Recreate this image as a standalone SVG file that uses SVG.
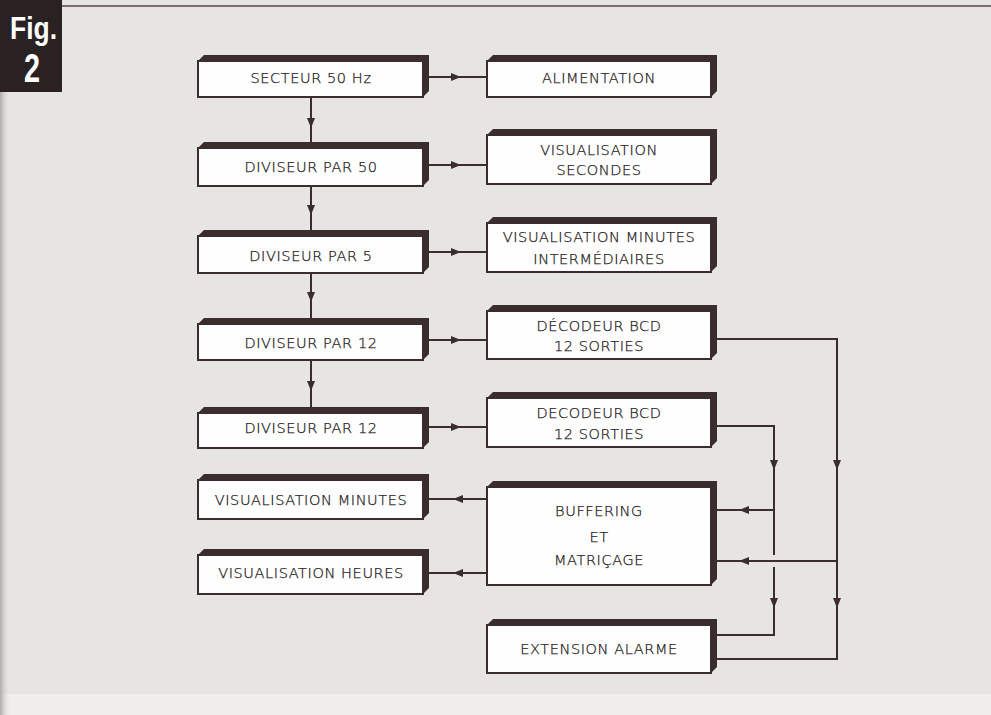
<svg xmlns="http://www.w3.org/2000/svg" xmlns:xlink="http://www.w3.org/1999/xlink" width="991" height="715" viewBox="0 0 991 715">
<style>
.sh{fill:#3b2d2d}
.bx{fill:#fefefe;stroke:#3b2d2d;stroke-width:2}
.t{font-family:"DejaVu Sans","Liberation Sans",sans-serif;font-size:14.5px;font-weight:200;letter-spacing:0.6px;fill:#1c1616;stroke:#1c1616;stroke-width:0.25;text-anchor:middle}
.ln{fill:none;stroke:#3b2d2d;stroke-width:2}
.ah{fill:#3b2d2d}
.fig{font-family:"Liberation Sans","Arial",sans-serif;font-weight:bold;fill:#ffffff}
</style>
<defs>
<linearGradient id="edge" x1="0" y1="0" x2="1" y2="0">
<stop offset="0" stop-color="#b0aaaa"/>
<stop offset="1" stop-color="#e7e5e3" stop-opacity="0"/>
</linearGradient>
<path id="ar" d="M0,0 L-10,-4 L-10,4 Z"/>
</defs>
<rect x="0" y="0" width="991" height="715" fill="#e7e5e3"/>
<rect x="0" y="694" width="991" height="21" fill="#efeeed"/>
<rect x="0" y="0" width="10" height="715" fill="url(#edge)"/>
<line x1="62" y1="6" x2="991" y2="6" stroke="#7d7070" stroke-width="2"/>
<g id="figlabel">
<rect x="0" y="0" width="62" height="92" fill="#2a2222"/>
<text class="fig" x="10" y="39" font-size="32" textLength="47" lengthAdjust="spacingAndGlyphs">Fig.</text>
<text class="fig" x="24" y="82" font-size="40" textLength="16" lengthAdjust="spacingAndGlyphs">2</text>
</g>
<g id="connectors">
<path class="ln" d="M429,77 H487 M429,165 H487 M429,252 H487 M429,340 H487 M429,427 H487"/>
<path class="ln" d="M311,97 V142 M311,186 V230 M311,273 V318 M311,360 V407"/>
<path class="ln" d="M487,499 H429 M487,573 H429"/>
<path class="ln" d="M717,339 H837 V659 H717 M837,561 H717"/>
<path class="ln" d="M717,426 H774 V555 M774,567 V635 H717 M774,510 H717"/>
<use xlink:href="#ar" class="ah" transform="translate(461,77)"/>
<use xlink:href="#ar" class="ah" transform="translate(461,165)"/>
<use xlink:href="#ar" class="ah" transform="translate(461,252)"/>
<use xlink:href="#ar" class="ah" transform="translate(461,340)"/>
<use xlink:href="#ar" class="ah" transform="translate(461,427)"/>
<use xlink:href="#ar" class="ah" transform="translate(311,128) rotate(90)"/>
<use xlink:href="#ar" class="ah" transform="translate(311,215) rotate(90)"/>
<use xlink:href="#ar" class="ah" transform="translate(311,302) rotate(90)"/>
<use xlink:href="#ar" class="ah" transform="translate(311,391) rotate(90)"/>
<use xlink:href="#ar" class="ah" transform="translate(453,499) rotate(180)"/>
<use xlink:href="#ar" class="ah" transform="translate(453,573) rotate(180)"/>
<use xlink:href="#ar" class="ah" transform="translate(774,470) rotate(90)"/>
<use xlink:href="#ar" class="ah" transform="translate(774,608) rotate(90)"/>
<use xlink:href="#ar" class="ah" transform="translate(837,470) rotate(90)"/>
<use xlink:href="#ar" class="ah" transform="translate(837,608) rotate(90)"/>
<use xlink:href="#ar" class="ah" transform="translate(739,510) rotate(180)"/>
<use xlink:href="#ar" class="ah" transform="translate(739,561) rotate(180)"/>
</g>
<g id="secteur">
<polygon class="sh" points="198,97 198,61 204,55 429,55 429,91 423,97"/>
<rect class="bx" x="198" y="61" width="225" height="36"/>
<text class="t" x="311" y="83">SECTEUR 50 Hz</text>
</g>
<g id="alimentation">
<polygon class="sh" points="487,97 487,61 493,55 717,55 717,91 711,97"/>
<rect class="bx" x="487" y="61" width="224" height="36"/>
<text class="t" x="599" y="83">ALIMENTATION</text>
</g>
<g id="diviseur50">
<polygon class="sh" points="198,186 198,148 204,142 429,142 429,180 423,186"/>
<rect class="bx" x="198" y="148" width="225" height="38"/>
<text class="t" x="311" y="172">DIVISEUR PAR 50</text>
</g>
<g id="vissecondes">
<polygon class="sh" points="487,184 487,135 493,129 717,129 717,178 711,184"/>
<rect class="bx" x="487" y="135" width="224" height="49"/>
<text class="t" x="599" y="155">VISUALISATION</text>
<text class="t" x="599" y="175">SECONDES</text>
</g>
<g id="diviseur5">
<polygon class="sh" points="198,273 198,236 204,230 429,230 429,267 423,273"/>
<rect class="bx" x="198" y="236" width="225" height="37"/>
<text class="t" x="311" y="261">DIVISEUR PAR 5</text>
</g>
<g id="visminutesint">
<polygon class="sh" points="487,272 487,223 493,217 717,217 717,266 711,272"/>
<rect class="bx" x="487" y="223" width="224" height="49"/>
<text class="t" x="599" y="242">VISUALISATION MINUTES</text>
<text class="t" x="599" y="264">INTERMÉDIAIRES</text>
</g>
<g id="diviseur12a">
<polygon class="sh" points="198,360 198,324 204,318 429,318 429,354 423,360"/>
<rect class="bx" x="198" y="324" width="225" height="36"/>
<text class="t" x="311" y="348">DIVISEUR PAR 12</text>
</g>
<g id="decodeur1">
<polygon class="sh" points="487,359 487,311 493,305 717,305 717,353 711,359"/>
<rect class="bx" x="487" y="311" width="224" height="48"/>
<text class="t" x="599" y="331">DÉCODEUR BCD</text>
<text class="t" x="599" y="351">12 SORTIES</text>
</g>
<g id="diviseur12b">
<polygon class="sh" points="198,448 198,413 204,407 429,407 429,442 423,448"/>
<rect class="bx" x="198" y="413" width="225" height="35"/>
<text class="t" x="311" y="433">DIVISEUR PAR 12</text>
</g>
<g id="decodeur2">
<polygon class="sh" points="487,447 487,398 493,392 717,392 717,441 711,447"/>
<rect class="bx" x="487" y="398" width="224" height="49"/>
<text class="t" x="599" y="418">DECODEUR BCD</text>
<text class="t" x="599" y="439">12 SORTIES</text>
</g>
<g id="visminutes">
<polygon class="sh" points="198,519 198,480 204,474 429,474 429,513 423,519"/>
<rect class="bx" x="198" y="480" width="225" height="39"/>
<text class="t" x="311" y="505">VISUALISATION MINUTES</text>
</g>
<g id="buffering">
<polygon class="sh" points="487,585 487,487 493,481 717,481 717,579 711,585"/>
<rect class="bx" x="487" y="487" width="224" height="98"/>
<text class="t" x="599" y="516">BUFFERING</text>
<text class="t" x="599" y="542">ET</text>
<text class="t" x="599" y="565">MATRIÇAGE</text>
</g>
<g id="visheures">
<polygon class="sh" points="198,594 198,555 204,549 429,549 429,588 423,594"/>
<rect class="bx" x="198" y="555" width="225" height="39"/>
<text class="t" x="311" y="578">VISUALISATION HEURES</text>
</g>
<g id="extension">
<polygon class="sh" points="487,673 487,625 493,619 717,619 717,667 711,673"/>
<rect class="bx" x="487" y="625" width="224" height="48"/>
<text class="t" x="599" y="654">EXTENSION ALARME</text>
</g>
</svg>
